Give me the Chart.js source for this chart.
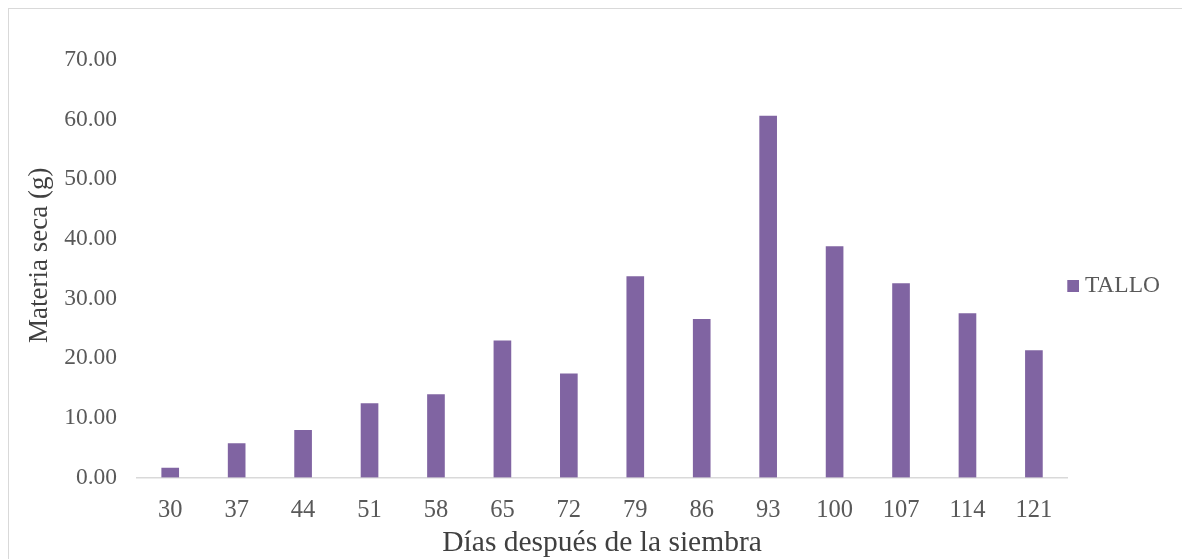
<!DOCTYPE html>
<html>
<head>
<meta charset="utf-8">
<script src="https://cdn.jsdelivr.net/npm/chart.js@4"></script>
<style>
html,body{margin:0;padding:0;background:#fff;}
#wrap{position:relative;width:1182px;height:559px;}
</style>
</head>
<body>
<div id="wrap"><canvas id="c"></canvas></div>
<script>
const categories = ["30","37","44","51","58","65","72","79","86","93","100","107","114","121"];
const tallo = [1.6, 5.7, 7.9, 12.4, 13.9, 22.9, 17.4, 33.7, 26.5, 60.6, 38.7, 32.5, 27.5, 21.3];
const seriesName = "TALLO";
const xTitle = "Días después de la siembra";
const yTitle = "    Materia seca (g)";

const SERIF = '"Liberation Serif", "Times New Roman", serif';
const BAR_COLOR = '#8064A2';

// legend marker: 12x12 square drawn on the right of an 18px-wide transparent image
const marker = document.createElement('canvas');
marker.width = 18; marker.height = 12;
(function(){ const m = marker.getContext('2d'); m.fillStyle = BAR_COLOR; m.fillRect(6, 0, 12, 12); })();

const borderPlugin = {
  id: 'outerBorder',
  beforeDraw(chart) {
    const ctx = chart.ctx;
    ctx.save();
    ctx.strokeStyle = '#d9d9d9';
    ctx.lineWidth = 1;
    ctx.strokeRect(8.5, 8.5, 1200, 600);
    ctx.restore();
  }
};

new Chart(document.getElementById('c'), {
  type: 'bar',
  data: {
    labels: categories,
    datasets: [{
      label: seriesName,
      data: tallo,
      backgroundColor: BAR_COLOR,
      borderWidth: 0,
      barThickness: 17
    }]
  },
  options: {
    responsive: true,
    maintainAspectRatio: false,
    animation: false,
    layout: { padding: { left: 20, top: 60, right: 12, bottom: 0 } },
    plugins: {
      legend: {
        position: 'right',
        align: 'start',
        title: { display: true, text: ' ', padding: { top: 0, bottom: 200 }, font: { size: 12 } },
        labels: {
          usePointStyle: true, pointStyle: marker, pointStyleWidth: 6,
          boxWidth: 12, boxHeight: 12, padding: 0,
          color: '#595959',
          font: { family: SERIF, size: 23.5 }
        }
      },
      tooltip: { enabled: false }
    },
    scales: {
      x: {
        grid: { display: false, drawTicks: false },
        border: { display: true, color: '#d9d9d9', width: 1.5 },
        ticks: {
          color: '#595959', padding: 18,
          font: { family: SERIF, size: 24.5 }
        },
        title: {
          display: true, text: xTitle, color: '#404040', padding: { top: 4, bottom: -2 },
          font: { family: SERIF, size: 29.5 }
        },
        afterFit(s) { s.height = 81.5; }
      },
      y: {
        min: 0, max: 70,
        grid: { display: false, drawTicks: false },
        border: { display: false },
        ticks: {
          stepSize: 10, color: '#595959', padding: 20,
          callback: v => Number(v).toFixed(2),
          font: { family: SERIF, size: 23.5 }
        },
        title: {
          display: true, text: yTitle, color: '#404040', padding: { top: 4, bottom: 0 },
          font: { family: SERIF, size: 27 }
        },
        afterFit(s) { s.width = 117; }
      }
    }
  },
  plugins: [borderPlugin]
});
</script>
</body>
</html>
